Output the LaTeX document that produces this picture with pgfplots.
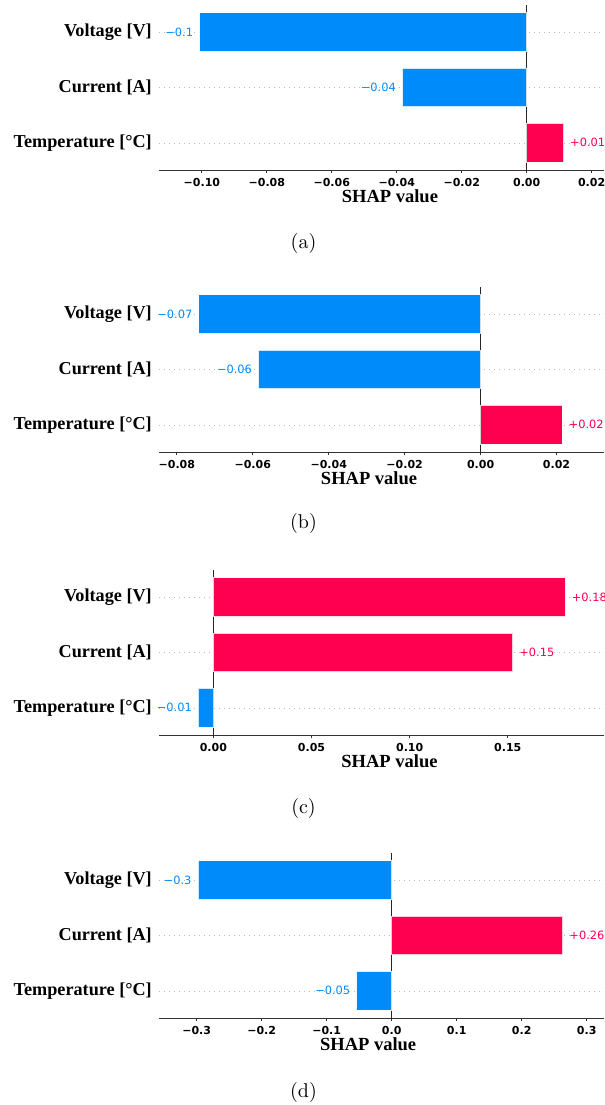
\documentclass[border=0pt]{standalone}
\usepackage{fontspec}
\usepackage{pgfplots}
\pgfplotsset{compat=1.18}
\newfontfamily\tnr{Liberation Serif}
\newfontfamily\djv{DejaVu Sans}
\definecolor{shapblue}{HTML}{008BFB}
\definecolor{shapred}{HTML}{FF0051}
\definecolor{spinegray}{HTML}{333333}

\pgfplotsset{
  shapbase/.style={
    scale only axis, width=222.5pt, height=83pt,
    anchor=south west,
    ymin=-0.5, ymax=2.5,
    ytick={0,1,2},
    yticklabels={Temperature [°C], Current [A], Voltage [V]},
    axis x line*=bottom, axis y line*=left,
    y axis line style={draw=none},
    ytick style={draw=none},
    x axis line style={spinegray, line width=0.5pt, -},
    xtick style={spinegray, line width=0.4pt},
    tick align=outside,
    major tick length=1.4pt,
    scaled x ticks=false,
    yticklabel style={font=\tnr\bfseries\fontsize{9.1}{10}\selectfont, inner sep=0pt, xshift=-2pt},
    xticklabel style={font=\djv\bfseries\fontsize{5.5}{6}\selectfont, inner sep=0pt, yshift=-2.2pt},
    ymajorgrids,
    major grid style={gray!55, line width=0.3pt, dash pattern=on 0.5pt off 2pt},
    xlabel={SHAP value},
    clip=false,
  },
  negbar/.style={xbar, bar shift=0pt, bar width=0.7, fill=shapblue, draw=white, draw opacity=0.8, line width=0.5pt,
    point meta=explicit symbolic, nodes near coords,
    every node near coord/.append style={anchor=east, xshift=-3pt, text=shapblue, font=\djv\fontsize{5.7}{6}\selectfont, inner sep=0pt}},
  posbar/.style={xbar, bar shift=0pt, bar width=0.7, fill=shapred, draw=white, draw opacity=0.8, line width=0.5pt,
    point meta=explicit symbolic, nodes near coords,
    every node near coord/.append style={anchor=west, xshift=3pt, text=shapred, font=\djv\fontsize{5.7}{6}\selectfont, inner sep=0pt}},
  zeroline/.style={black!85, line width=0.5pt, forget plot},
}

\begin{document}
\begin{tikzpicture}
\path[use as bounding box] (0,0) rectangle (302.5pt,-552.5pt);

% (a)
\begin{axis}[shapbase, at={(79.5pt,-85.25pt)},
  xmin=-0.1132, xmax=0.0238,
  xtick={-0.1,-0.08,-0.06,-0.04,-0.02,0,0.02},
  xticklabels={−0.10,−0.08,−0.06,−0.04,−0.02,0.00,0.02},
  xlabel style={at={(axis description cs:0.519,0)}, anchor=base, yshift=-16pt, font=\tnr\bfseries\fontsize{9.25}{10}\selectfont}]
\addplot[zeroline] coordinates {(0,-0.5) (0,2.5)};
\addplot[negbar] table[meta=lab] {
x y lab
-0.1007 2 −0.1
-0.0383 1 −0.04
};
\addplot[posbar] table[meta=lab] {
x y lab
0.0114 0 +0.01
};
\end{axis}

% (b)
\begin{axis}[shapbase, at={(79.5pt,-226.25pt)},
  xmin=-0.0847, xmax=0.0325,
  xtick={-0.08,-0.06,-0.04,-0.02,0,0.02},
  xticklabels={−0.08,−0.06,−0.04,−0.02,0.00,0.02},
  xlabel style={at={(axis description cs:0.472,0)}, anchor=base, yshift=-16pt, font=\tnr\bfseries\fontsize{9.25}{10}\selectfont}]
\addplot[zeroline] coordinates {(0,-0.5) (0,2.5)};
\addplot[negbar] table[meta=lab] {
x y lab
-0.0742 2 −0.07
-0.0585 1 −0.06
};
\addplot[posbar] table[meta=lab] {
x y lab
0.0215 0 +0.02
};
\end{axis}

% (c)
\begin{axis}[shapbase, at={(79.5pt,-367.75pt)},
  xmin=-0.0277, xmax=0.199,
  xtick={0,0.05,0.1,0.15},
  xticklabels={0.00,0.05,0.10,0.15},
  xlabel style={at={(axis description cs:0.518,0)}, anchor=base, yshift=-16pt, font=\tnr\bfseries\fontsize{9.25}{10}\selectfont}]
\addplot[zeroline] coordinates {(0,-0.5) (0,2.5)};
\addplot[posbar] table[meta=lab] {
x y lab
0.1793 2 +0.18
0.1526 1 +0.15
};
\addplot[negbar] table[meta=lab] {
x y lab
-0.0077 0 −0.01
};
\end{axis}

% (d)
\begin{axis}[shapbase, at={(79.5pt,-509.25pt)},
  xmin=-0.358, xmax=0.3266,
  xtick={-0.3,-0.2,-0.1,0,0.1,0.2,0.3},
  xticklabels={−0.3,−0.2,−0.1,0.0,0.1,0.2,0.3},
  xlabel style={at={(axis description cs:0.47,0)}, anchor=base, yshift=-16pt, font=\tnr\bfseries\fontsize{9.25}{10}\selectfont}]
\addplot[zeroline] coordinates {(0,-0.5) (0,2.5)};
\addplot[negbar] table[meta=lab] {
x y lab
-0.2980 2 −0.3
-0.0538 0 −0.05
};
\addplot[posbar] table[meta=lab] {
x y lab
0.2635 1 +0.26
};
\end{axis}

\node[font=\fontsize{10}{12}\selectfont] at (151.75pt,-121.5pt) {(a)};
\node[font=\fontsize{10}{12}\selectfont] at (151.75pt,-261.5pt) {(b)};
\node[font=\fontsize{10}{12}\selectfont] at (151.75pt,-404pt) {(c)};
\node[font=\fontsize{10}{12}\selectfont] at (151.75pt,-546pt) {(d)};
\end{tikzpicture}
\end{document}
